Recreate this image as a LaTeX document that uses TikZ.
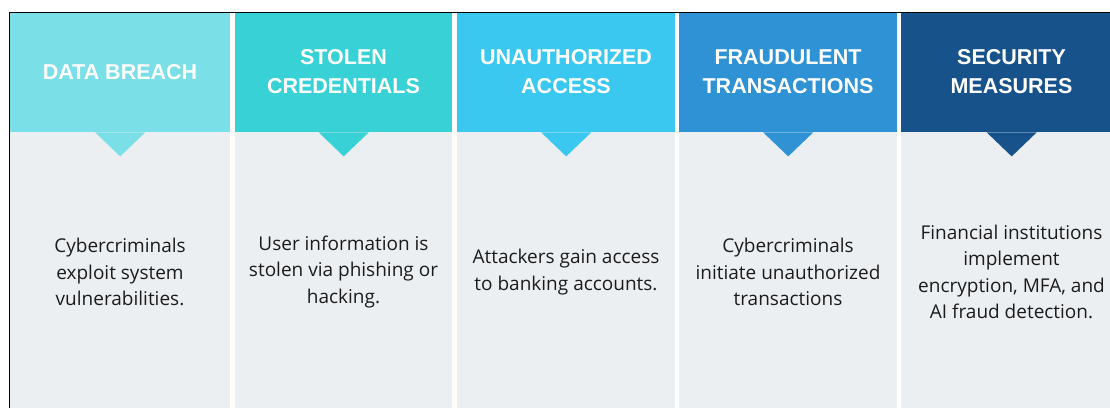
\documentclass[tikz,border=0pt]{standalone}
\usepackage{fontspec}
\setmainfont{Open Sans}
\newfontfamily\headfont{Liberation Sans}
\usepackage{tikz}
\usetikzlibrary{positioning}

\definecolor{breachcol}{HTML}{7ADFE6}
\definecolor{stolencol}{HTML}{38D2D6}
\definecolor{accesscol}{HTML}{3AC8F0}
\definecolor{fraudcol}{HTML}{2E92D5}
\definecolor{securecol}{HTML}{17528A}
\definecolor{panelgray}{HTML}{ECEFF2}
\definecolor{panelink}{HTML}{1C1C1C}

\tikzset{
  header/.style={fill=#1, anchor=north west, inner sep=0pt, minimum height=119pt},
  headtext/.style={text=white, align=center, font=\headfont\bfseries\fontsize{21.5}{29}\selectfont},
  panel/.style={fill=panelgray, anchor=north west, inner sep=0pt, minimum height=276pt},
  paneltext/.style={text=panelink, align=center, font=\fontsize{19}{26.5}\selectfont}
}

\begin{document}
\begin{tikzpicture}[x=1pt, y=-1pt]
      \fill[white] (0,0) rectangle (1110,408);
      \useasboundingbox (0,0) rectangle (1110,408);
      \clip (0,0) rectangle (1110,408);
      \foreach \i/\x/\w/\col/\title/\txt in {
        1/10/220/breachcol/{DATA BREACH}/{Cybercriminals\\exploit system\\vulnerabilities.},
        2/235/217/stolencol/{STOLEN\\CREDENTIALS}/{User information is\\stolen via phishing or\\hacking.},
        3/457/218/accesscol/{UNAUTHORIZED\\ACCESS}/{Attackers gain access\\to banking accounts.},
        4/679/218/fraudcol/{FRAUDULENT\\TRANSACTIONS}/{Cybercriminals\\initiate unauthorized\\transactions},
        5/901/221/securecol/{SECURITY\\MEASURES}/{Financial institutions\\implement\\encryption, MFA, and\\AI fraud detection.}}
      {
        \node[panel, minimum width=\w pt] (b\i) at (\x,132) {};
        \node[header=\col, minimum width=\w pt] (h\i) at (\x,13) {};
        \node[headtext] (ht\i) at (\x+\w/2,72) {\title};
        \fill[\col] ([xshift=-25pt]h\i.south) -- ([xshift=25pt]h\i.south)
          -- ([yshift=-24pt]h\i.south) -- cycle;
        \node[paneltext] (t\i) at (\x+\w/2,272) {\txt};
      }
      % frame on the left and top
      \draw[line width=1.6pt, black] (9.5,408) -- (9.5,12.5) -- (1110,12.5);
\end{tikzpicture}
\end{document}
